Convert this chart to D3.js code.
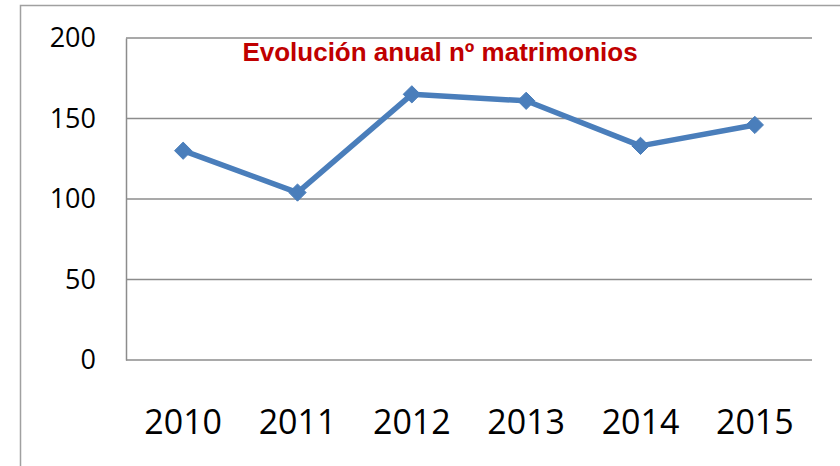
<!DOCTYPE html>
<html>
<head>
<meta charset="utf-8">
<script src="https://cdn.jsdelivr.net/npm/d3@7"></script>
<style>
  body { margin: 0; background: #fff; }
</style>
</head>
<body>
<div id="chart"></div>
<script>
// Chart data
const years = ["2010", "2011", "2012", "2013", "2014", "2015"];
const matrimonios = [130, 104, 165, 161, 133, 146];
const yTicks = [0, 50, 100, 150, 200];
const chartTitle = "Evolución anual nº matrimonios";

const W = 840, H = 466;
const margin = {top: 38, right: 28, bottom: 106, left: 126};
const width = W - margin.left - margin.right,
    height = H - margin.top - margin.bottom;

const svg = d3.select("#chart")
    .append("svg")
    .attr("width", W)
    .attr("height", H);

// Outer chart frame (cut off on the right and bottom)
svg.append("rect")
    .attr("x", 20.5)
    .attr("y", 5.5)
    .attr("width", 900)
    .attr("height", 600)
    .attr("fill", "none")
    .attr("stroke", "#a0a0a0")
    .attr("stroke-width", 1.5);

const g = svg.append("g")
    .attr("transform", `translate(${margin.left},${margin.top})`);

const x = d3.scaleBand()
    .domain(years)
    .range([0, width]);

const y = d3.scaleLinear()
    .domain([0, 200])
    .range([height, 0]);

// Horizontal gridlines
g.selectAll(".grid")
    .data(yTicks)
    .enter().append("line")
    .attr("class", "grid")
    .attr("x1", 0)
    .attr("x2", width)
    .attr("y1", d => y(d))
    .attr("y2", d => y(d))
    .attr("stroke", "#8c8c8c")
    .attr("stroke-width", 1.5);

// Y axis
const yAxis = g.append("g")
    .call(d3.axisLeft(y).tickValues(yTicks).tickSize(0).tickPadding(30));
yAxis.select(".domain")
    .attr("stroke", "#8c8c8c")
    .attr("stroke-width", 1.5);
yAxis.selectAll("text")
    .attr("font-family", "'Open Sans', sans-serif")
    .attr("font-size", 27)
    .attr("fill", "#000");

// X axis
const xAxis = g.append("g")
    .attr("transform", `translate(0,${height})`)
    .call(d3.axisBottom(x).tickSize(0).tickPadding(50));
xAxis.select(".domain").remove();
xAxis.selectAll("text")
    .attr("font-family", "'Open Sans', sans-serif")
    .attr("font-size", 34)
    .attr("fill", "#000");

// Line
const line = d3.line()
    .x((d, i) => x(years[i]) + x.bandwidth() / 2)
    .y(d => y(d));

g.append("path")
    .datum(matrimonios)
    .attr("fill", "none")
    .attr("stroke", "#4a7ebb")
    .attr("stroke-width", 5.5)
    .attr("stroke-linejoin", "round")
    .attr("d", line);

// Diamond markers
g.selectAll(".dot")
    .data(matrimonios)
    .enter().append("path")
    .attr("class", "dot")
    .attr("d", d3.symbol().type(d3.symbolDiamond2).size(190))
    .attr("transform", (d, i) => `translate(${x(years[i]) + x.bandwidth() / 2},${y(d)})`)
    .attr("fill", "#4a7ebb")
    .attr("stroke", "#4a7ebb")
    .attr("stroke-width", 1);

// Title
svg.append("text")
    .attr("x", 440)
    .attr("y", 61)
    .attr("text-anchor", "middle")
    .attr("font-family", "'Liberation Sans', Arial, sans-serif")
    .attr("font-weight", "bold")
    .attr("font-size", 26)
    .attr("fill", "#c00000")
    .text(chartTitle);
</script>
</body>
</html>
